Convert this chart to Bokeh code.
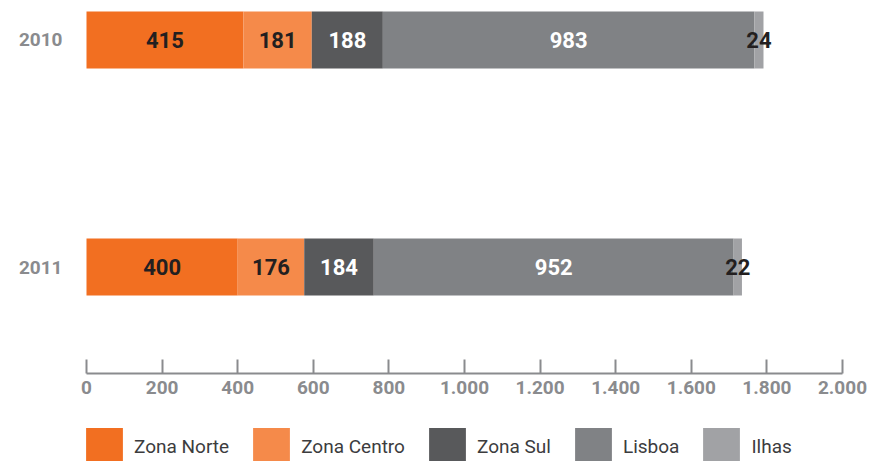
from bokeh.plotting import figure
from bokeh.models import Range1d, FixedTicker, Legend, LegendItem, ColumnDataSource
from bokeh.core.properties import value
from bokeh.embed import file_html
from bokeh.resources import INLINE

years = [2010, 2011]
year_labels = ["2010", "2011"]
series_names = ["Zona Norte", "Zona Centro", "Zona Sul", "Lisboa", "Ilhas"]
zona_norte = [415, 400]
zona_centro = [181, 176]
zona_sul = [188, 184]
lisboa = [983, 952]
ilhas = [24, 22]
series_values = [zona_norte, zona_centro, zona_sul, lisboa, ilhas]
series_colors = ["#f26f21", "#f58a4a", "#58595b", "#808285", "#a1a2a5"]
label_colors = ["#231f20", "#231f20", "#ffffff", "#ffffff", "#231f20"]
x_ticks = [0, 200, 400, 600, 800, 1000, 1200, 1400, 1600, 1800, 2000]
tick_labels = ["0", "200", "400", "600", "800", "1.000", "1.200", "1.400", "1.600", "1.800", "2.000"]

FONT = "Roboto"
GRAY = "#8a8b8e"

# frame covers the whole canvas; 0..2000 maps to pixels 86..842
p = figure(width=872, height=461, output_backend="svg", toolbar_location=None,
           x_range=Range1d(-227.51, 2079.37), y_range=Range1d(2011.8568, 2009.826),
           min_border_left=0, min_border_right=0, min_border_top=0, min_border_bottom=0)
p.outline_line_color = None
p.xgrid.visible = False
p.ygrid.visible = False
p.background_fill_color = "white"
p.border_fill_color = "white"

bar_h = 57 / 227
left = [0.0] * len(years)
items = []
for name, vals, col, lcol in zip(series_names, series_values, series_colors, label_colors):
    right = [l + v for l, v in zip(left, vals)]
    mid = [(l + r) / 2 for l, r in zip(left, right)]
    src = ColumnDataSource(dict(y=years, left=left, right=right, mid=mid,
                                txt=[str(v) for v in vals]))
    r = p.hbar(y="y", left="left", right="right", height=bar_h, source=src,
               fill_color=col, line_color=None)
    p.text(x="mid", y="y", text="txt", source=src, text_font=value(FONT),
           text_font_style="bold", text_font_size="22px", text_color=lcol,
           text_align="center", text_baseline="middle")
    items.append(LegendItem(label=name, renderers=[r]))
    left = right

xa = p.xaxis[0]
xa.fixed_location = 2011.4692
xa.bounds = (0, 2000)
xa.ticker = FixedTicker(ticks=x_ticks)
xa.major_label_overrides = {t: s for t, s in zip(x_ticks, tick_labels)}
xa.minor_tick_line_color = None
xa.major_tick_in = 14
xa.major_tick_out = 0
xa.axis_line_color = GRAY
xa.axis_line_width = 2
xa.major_tick_line_color = GRAY
xa.major_tick_line_width = 2
xa.major_label_text_font = FONT
xa.major_label_text_font_style = "bold"
xa.major_label_text_font_size = "19px"
xa.major_label_text_color = GRAY
xa.major_label_standoff = 7

ya = p.yaxis[0]
ya.fixed_location = 0
ya.ticker = FixedTicker(ticks=years)
ya.major_label_overrides = {y: s for y, s in zip(years, year_labels)}
ya.minor_tick_line_color = None
ya.major_tick_line_color = None
ya.major_tick_in = 0
ya.major_tick_out = 0
ya.axis_line_color = None
ya.major_label_text_font = FONT
ya.major_label_text_font_style = "bold"
ya.major_label_text_font_size = "19px"
ya.major_label_text_color = GRAY
ya.major_label_standoff = 24

legend = Legend(items=items, orientation="horizontal", location=(81, -8),
                glyph_width=46, glyph_height=46, label_standoff=7, spacing=19,
                padding=0, margin=0, border_line_color=None, background_fill_alpha=0,
                label_text_font=FONT, label_text_font_size="19px", label_text_color="#3c3c3e")
p.add_layout(legend, "center")

open("out.html", "w").write(file_html(p, INLINE))
